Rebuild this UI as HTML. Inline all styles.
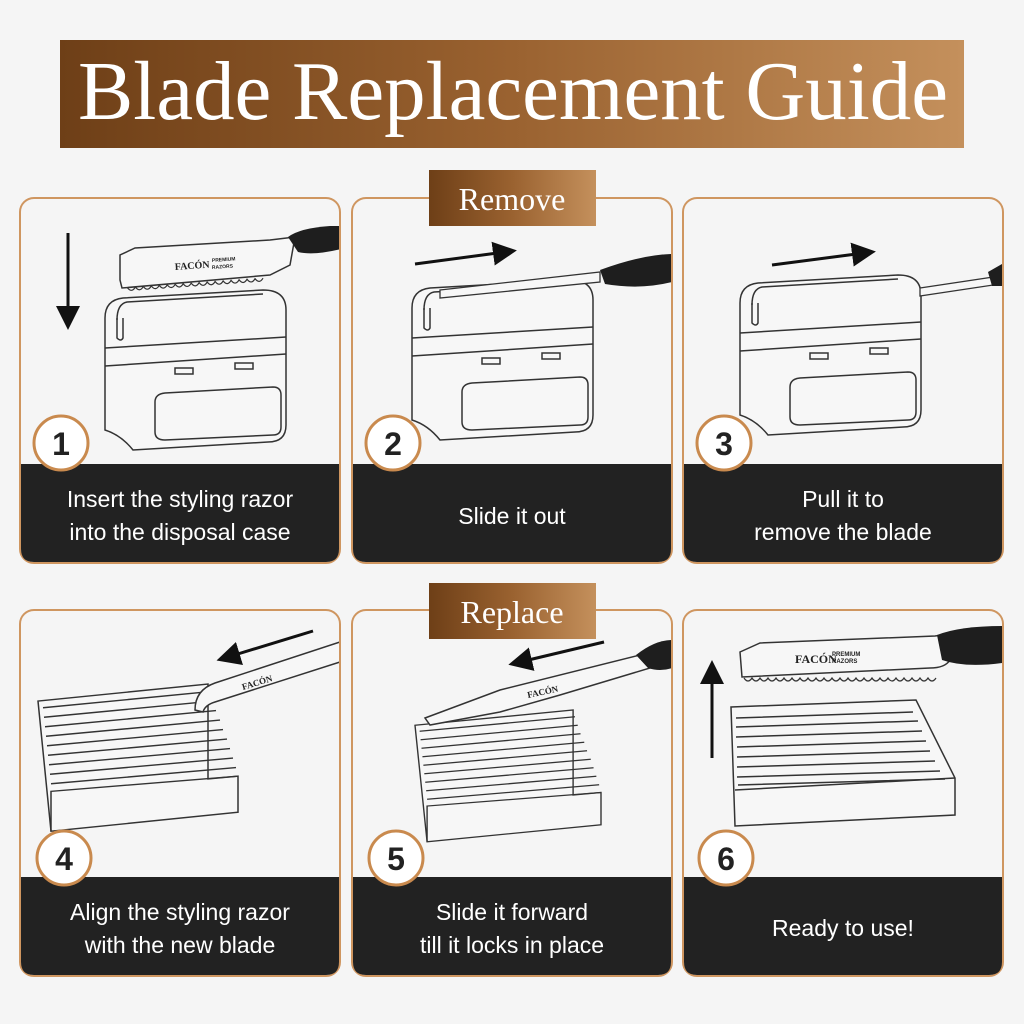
<!DOCTYPE html>
<html><head><meta charset="utf-8"><style>
html,body{margin:0;padding:0;background:#f5f5f5;}
svg{display:block}
</style></head><body>
<svg width="1024" height="1024" viewBox="0 0 1024 1024" xmlns="http://www.w3.org/2000/svg">
<defs>
<linearGradient id="br" x1="0" y1="0" x2="1" y2="0">
<stop offset="0" stop-color="#6e3f17"/><stop offset="0.5" stop-color="#9a6230"/><stop offset="1" stop-color="#c4905c"/>
</linearGradient>
<clipPath id="c1"><rect x="21" y="199" width="318" height="363"/></clipPath>
<clipPath id="c2"><rect x="353" y="199" width="318" height="363"/></clipPath>
<clipPath id="c3"><rect x="684" y="199" width="318" height="363"/></clipPath>
<clipPath id="c4"><rect x="21" y="611" width="318" height="364"/></clipPath>
<clipPath id="c5"><rect x="353" y="611" width="318" height="364"/></clipPath>
<clipPath id="c6"><rect x="684" y="611" width="318" height="364"/></clipPath>
<g id="box" fill="#f7f7f7" stroke="#333" stroke-width="1.5">
<path d="M2,58 L2,28 Q2,10 20,8 L160,0 Q183,0 183,20 L183,135 Q183,152 165,152 L30,160 Q18,145 2,140 Z"/>
<path d="M2,58 L183,47" fill="none"/>
<path d="M2,76 L183,64" fill="none"/>
<path d="M14,30 Q14,14 24,12 L160,4" fill="none"/>
<path d="M14,28 L14,48 Q18,52 20,48 L20,28" fill="none"/>
<rect x="72" y="78" width="18" height="6"/>
<rect x="132" y="73" width="18" height="6"/>
<path d="M52,112 Q52,104 62,103 L170,97 Q178,97 178,105 L178,137 Q178,145 170,145 L62,150 Q52,150 52,142 Z"/>
</g>
<g id="tray" fill="#f7f7f7" stroke="#333" stroke-width="1.5">
<path d="M0,18 L170,0 L170,100 L200,97 L200,135 L13,155 Z"/>
<path d="M13,155 L13,113 L200,97" fill="none"/>
<path d="M5,25 L172,8 M6,35 L175,18 M7,45 L178,28 M8,55 L182,38 M9,65 L185,48 M10,75 L189,58 M11,85 L192,68 M12,95 L195,78 M13,105 L198,88" fill="none"/>
</g>
<g id="razor">
<path d="M0,40 L0,15 L15,8 L150,0 L175,-3 L170,25 Q160,30 150,35 L2,48 Z" fill="#f7f7f7" stroke="#333" stroke-width="1.5"/>
<path d="M168,-3 Q180,-12 210,-14 L225,-14 L225,8 Q195,16 178,12 Z" fill="#1e1e1e"/>
<path d="M4,48 q4,6 8,0 q4,6 8,0 q4,6 8,0 q4,6 8,0 q4,6 8,0 q4,6 8,0 q4,6 8,0 q4,6 8,0 q4,6 8,0 q4,6 8,0 q4,6 8,0 q4,6 8,0 q4,6 8,0 q4,6 8,0 q4,6 8,0 q4,6 8,0 q4,6 8,0" fill="none" stroke="#333" stroke-width="1.2" transform="rotate(-4)"/>
<text x="55" y="30" font-family="Liberation Serif,serif" font-weight="bold" font-size="10" fill="#222" transform="rotate(-4 55 30)">FACÓN</text>
<text x="92" y="22" font-family="Liberation Sans,sans-serif" font-weight="bold" font-size="5" fill="#222" transform="rotate(-4 92 22)">PREMIUM</text>
<text x="92" y="29" font-family="Liberation Sans,sans-serif" font-weight="bold" font-size="5" fill="#222" transform="rotate(-4 92 29)">RAZORS</text>
</g>
<marker id="ah" markerWidth="8" markerHeight="8" refX="4" refY="4" orient="auto" markerUnits="strokeWidth"><path d="M0,0 L8,4 L0,8 Z" fill="#111"/></marker>
</defs>

<!-- title -->
<rect x="60" y="40" width="904" height="108" fill="url(#br)"/>
<text x="78" y="119" textLength="870" lengthAdjust="spacingAndGlyphs" font-family="Liberation Serif,serif" font-size="84" fill="#fff">Blade Replacement Guide</text>

<!-- panels -->
<g stroke="#cf9660" stroke-width="2" fill="#f5f5f5">
<rect x="20" y="198" width="320" height="365" rx="14"/>
<rect x="352" y="198" width="320" height="365" rx="14"/>
<rect x="683" y="198" width="320" height="365" rx="14"/>
<rect x="20" y="610" width="320" height="366" rx="14"/>
<rect x="352" y="610" width="320" height="366" rx="14"/>
<rect x="683" y="610" width="320" height="366" rx="14"/>
</g>
<g fill="#222">
<path d="M21,464 H339 V549 Q339,562 326,562 H34 Q21,562 21,549 Z"/>
<path d="M353,464 H671 V549 Q671,562 658,562 H366 Q353,562 353,549 Z"/>
<path d="M684,464 H1002 V549 Q1002,562 989,562 H697 Q684,562 684,549 Z"/>
<path d="M21,877 H339 V962 Q339,975 326,975 H34 Q21,975 21,962 Z"/>
<path d="M353,877 H671 V962 Q671,975 658,975 H366 Q353,975 353,962 Z"/>
<path d="M684,877 H1002 V962 Q1002,975 989,975 H697 Q684,975 684,962 Z"/>
</g>

<!-- tags -->
<rect x="429" y="170" width="167" height="56" fill="url(#br)"/>
<text x="512" y="210" text-anchor="middle" font-family="Liberation Serif,serif" font-size="32" fill="#fff">Remove</text>
<rect x="429" y="583" width="167" height="56" fill="url(#br)"/>
<text x="512" y="623" text-anchor="middle" font-family="Liberation Serif,serif" font-size="32" fill="#fff">Replace</text>

<!-- illustrations row 1 -->
<line x1="68" y1="233" x2="68" y2="318" stroke="#111" stroke-width="3" marker-end="url(#ah)"/>
<g clip-path="url(#c1)"><use href="#razor" transform="translate(120,240)"/></g>
<use href="#box" transform="translate(103,290)"/>

<line x1="415" y1="264" x2="505" y2="252" stroke="#111" stroke-width="3" marker-end="url(#ah)"/>
<use href="#box" transform="translate(410,280)"/>
<g clip-path="url(#c2)">
<path d="M440,290 L600,272 L600,282 L440,298 Z" fill="#f7f7f7" stroke="#333" stroke-width="1.3"/>
<path d="M600,270 Q640,255 672,254 L672,282 Q640,290 605,284 Z" fill="#1e1e1e"/>
</g>

<line x1="772" y1="265" x2="864" y2="253" stroke="#111" stroke-width="3" marker-end="url(#ah)"/>
<use href="#box" transform="translate(738,275)"/>
<g clip-path="url(#c3)">
<path d="M920,288 L1000,276 L1000,284 L920,296 Z" fill="#f7f7f7" stroke="#333" stroke-width="1.3"/>
<path d="M988,272 L1002,264 L1002,286 L992,286 Z" fill="#1e1e1e"/>
</g>

<!-- row 2 -->
<line x1="313" y1="631" x2="228" y2="657" stroke="#111" stroke-width="3" marker-end="url(#ah)"/>
<use href="#tray" transform="translate(38,684) scale(1,0.95)"/>
<g clip-path="url(#c4)">
<path d="M195,710 Q195,690 215,683 L340,642 L340,662 L215,702 Q205,705 203,712 Z" fill="#f7f7f7" stroke="#333" stroke-width="1.5"/>
<text x="243" y="690" font-family="Liberation Serif,serif" font-weight="bold" font-size="9" fill="#222" transform="rotate(-17 243 690)">FACÓN</text>
</g>

<line x1="604" y1="642" x2="520" y2="662" stroke="#111" stroke-width="3" marker-end="url(#ah)"/>
<use href="#tray" transform="translate(415,710) scale(0.93,0.85)"/>
<g clip-path="url(#c5)">
<path d="M425,718 L500,690 L640,655 L650,668 L560,695 L500,712 L430,725 Z" fill="#f7f7f7" stroke="#333" stroke-width="1.5"/>
<path d="M636,655 Q655,640 672,640 L672,668 Q660,672 648,668 Z" fill="#1e1e1e"/>
<text x="528" y="698" font-family="Liberation Serif,serif" font-weight="bold" font-size="9" fill="#222" transform="rotate(-12 528 698)">FACÓN</text>
</g>

<line x1="712" y1="758" x2="712" y2="672" stroke="#111" stroke-width="3" marker-end="url(#ah)"/>
<g clip-path="url(#c6)">
<path d="M740,652 L760,643 L935,636 L950,634 L950,660 Q945,668 930,668 L742,677 Z" fill="#f7f7f7" stroke="#333" stroke-width="1.5"/>
<path d="M937,635 Q960,626 1002,626 L1002,663 Q965,668 942,660 Z" fill="#1e1e1e"/>
</g>
<path d="M744,678 q4,6 8,0 q4,6 8,0 q4,6 8,0 q4,6 8,0 q4,6 8,0 q4,6 8,0 q4,6 8,0 q4,6 8,0 q4,6 8,0 q4,6 8,0 q4,6 8,0 q4,6 8,0 q4,6 8,0 q4,6 8,0 q4,6 8,0 q4,6 8,0 q4,6 8,0 q4,6 8,0 q4,6 8,0 q4,6 8,0 q4,6 8,0 q4,6 8,0 q4,6 8,0 q4,6 8,0" fill="none" stroke="#333" stroke-width="1.2"/>
<text x="795" y="663" font-family="Liberation Serif,serif" font-weight="bold" font-size="12" fill="#222">FACÓN</text>
<text x="832" y="656" font-family="Liberation Sans,sans-serif" font-weight="bold" font-size="6" fill="#222">PREMIUM</text>
<text x="832" y="663" font-family="Liberation Sans,sans-serif" font-weight="bold" font-size="6" fill="#222">RAZORS</text>
<g fill="#f7f7f7" stroke="#333" stroke-width="1.5">
<path d="M731,707 L916,700 L955,778 L955,815 L735,826 Z"/>
<path d="M735,790 L955,778" fill="none"/>
<path d="M736,718 L913,712 M736,727 L918,721 M736,737 L922,731 M737,747 L926,741 M737,757 L930,751 M737,767 L935,761 M737,777 L940,771 M738,785 L945,779" fill="none"/>
</g>

<!-- number circles -->
<g fill="#fff" stroke="#c98a4e" stroke-width="3">
<circle cx="61" cy="443" r="27"/><circle cx="393" cy="443" r="27"/><circle cx="724" cy="443" r="27"/>
<circle cx="64" cy="858" r="27"/><circle cx="396" cy="858" r="27"/><circle cx="726" cy="858" r="27"/>
</g>
<g font-family="Liberation Sans,sans-serif" font-weight="bold" font-size="32" fill="#222" text-anchor="middle">
<text x="61" y="455">1</text><text x="393" y="455">2</text><text x="724" y="455">3</text>
<text x="64" y="870">4</text><text x="396" y="870">5</text><text x="726" y="870">6</text>
</g>

<!-- captions -->
<g font-family="Liberation Sans,sans-serif" font-size="23" fill="#fff" text-anchor="middle">
<text x="180" y="507">Insert the styling razor</text>
<text x="180" y="540">into the disposal case</text>
<text x="512" y="524">Slide it out</text>
<text x="843" y="507">Pull it to</text>
<text x="843" y="540">remove the blade</text>
<text x="180" y="920">Align the styling razor</text>
<text x="180" y="953">with the new blade</text>
<text x="512" y="920">Slide it forward</text>
<text x="512" y="953">till it locks in place</text>
<text x="843" y="936">Ready to use!</text>
</g>
</svg>
</body></html>
